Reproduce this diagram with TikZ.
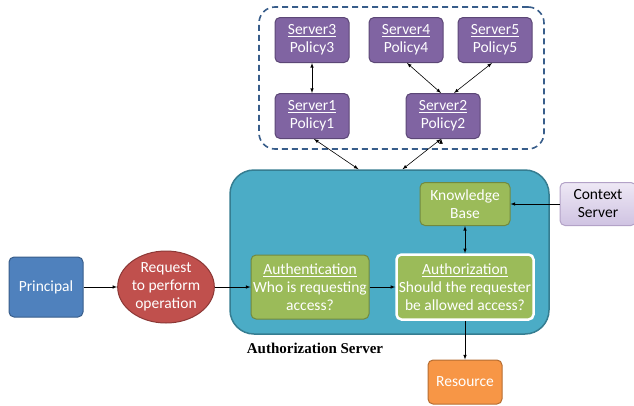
\documentclass[tikz,border=0pt]{standalone}
\usepackage{fontspec}
\setmainfont{Carlito}
\newfontfamily\captionfont{Liberation Serif}
\usepackage{tikz}
\usetikzlibrary{arrows, positioning, shapes.geometric}
\usepackage{xcolor}
\definecolor{srvpurple}{HTML}{8064A2}
\definecolor{srvpurpledark}{HTML}{5C4776}
\definecolor{stagegreen}{HTML}{9BBB59}
\definecolor{stagegreendark}{HTML}{71893F}
\definecolor{tealbox}{HTML}{4BACC6}
\definecolor{tealdark}{HTML}{357D91}
\definecolor{poolblue}{HTML}{385D8A}
\definecolor{princblue}{HTML}{4F81BD}
\definecolor{princbluedark}{HTML}{385D8A}
\definecolor{reqred}{HTML}{C0504D}
\definecolor{reqreddark}{HTML}{8C3836}
\definecolor{resorange}{HTML}{F79646}
\definecolor{resorangedark}{HTML}{B66D31}
\definecolor{ctxtop}{HTML}{EEE8F5}
\definecolor{ctxbottom}{HTML}{CFC3E2}
\definecolor{ctxborder}{HTML}{B3A2C7}

\begin{document}
\begin{tikzpicture}[x=1pt,y=-1pt,node distance=3cm,on grid,>=latex,
    font=\fontsize{15.5}{18}\selectfont]
    \tikzstyle{box}=[shape=rectangle,rounded corners=5pt,draw,line width=1pt,text=white,align=center,inner sep=2pt]
    \tikzstyle{policy}=[box,fill=srvpurple,draw=srvpurpledark,minimum width=74pt,minimum height=45pt]
    \tikzstyle{stage}=[box,fill=stagegreen,draw=stagegreendark]
    \tikzstyle{link}=[draw,line width=0.6pt]

    \useasboundingbox (0,0) rectangle (634,405);

    % server pool and authorization server backgrounds
    \node[draw=poolblue,line width=1.6pt,dash pattern=on 6pt off 4pt,rounded corners=16pt,
          minimum width=285pt,minimum height=142pt] (pool) at (401.5,78) {};
    \node[fill=tealbox,draw=tealdark,line width=1.5pt,rounded corners=24pt,
          minimum width=319pt,minimum height=164pt] (authsrv) at (389.5,252) {};
    \node[font=\captionfont\bfseries\fontsize{15}{17}\selectfont] (srvlabel) at (315,348) {Authorization Server};

    \node[policy] (S1) at (312,116) {\underline{Server1}\\Policy1};
    \node[policy,above=76pt of S1] (S3) {\underline{Server3}\\Policy3};
    \node[policy,right=131pt of S1] (S2) {\underline{Server2}\\Policy2};
    \node[policy] (S4) at (406,40) {\underline{Server4}\\Policy4};
    \node[policy,right=89pt of S4] (S5) {\underline{Server5}\\Policy5};

    \node[box,fill=princblue,draw=princbluedark,minimum width=74pt,minimum height=60pt] (P) at (46,287) {Principal};
    \node[shape=ellipse,fill=reqred,draw=reqreddark,line width=1pt,text=white,align=center,inner sep=0pt,
          minimum width=94pt,minimum height=72pt,right=120pt of P] (R) {Request\\to perform\\operation};
    \node[stage,minimum width=118pt,minimum height=64pt,right=264pt of P] (AN) {\underline{Authentication}\\Who is requesting\\access?};
    \node[stage,draw=white,line width=2.5pt,minimum width=137pt,minimum height=65pt,right=155pt of AN] (AZ)
        {\underline{Authorization}\\Should the requester\\be allowed access?};
    \node[stage,minimum width=90pt,minimum height=43pt,above=83pt of AZ] (KB) {Knowledge\\Base};
    \node[box,text=black,top color=ctxtop,bottom color=ctxbottom,draw=ctxborder,
          minimum width=76pt,minimum height=43pt,right=133pt of KB] (CS) {Context\\Server};
    \node[box,fill=resorange,draw=resorangedark,minimum width=74pt,minimum height=44pt,below=95pt of AZ] (RS) {Resource};

    \path[<->,link]
    (S3) edge (S1)
    ([xshift=1pt]S4.south) edge ([xshift=-2pt]S2.north)
    ([xshift=-3pt]S5.south) edge ([xshift=11pt]S2.north)
    ([xshift=2pt]S1.south) edge ([xshift=-31pt]authsrv.north)
    ([xshift=-2pt]S2.south) edge ([xshift=13pt]authsrv.north)
    (KB) edge (AZ)
    ;
    \path[->,link]
    (P) edge (R)
    (R) edge (AN)
    (AN) edge (AZ)
    (CS) edge (KB)
    (AZ) edge (RS)
    ;
\end{tikzpicture}
\end{document}
